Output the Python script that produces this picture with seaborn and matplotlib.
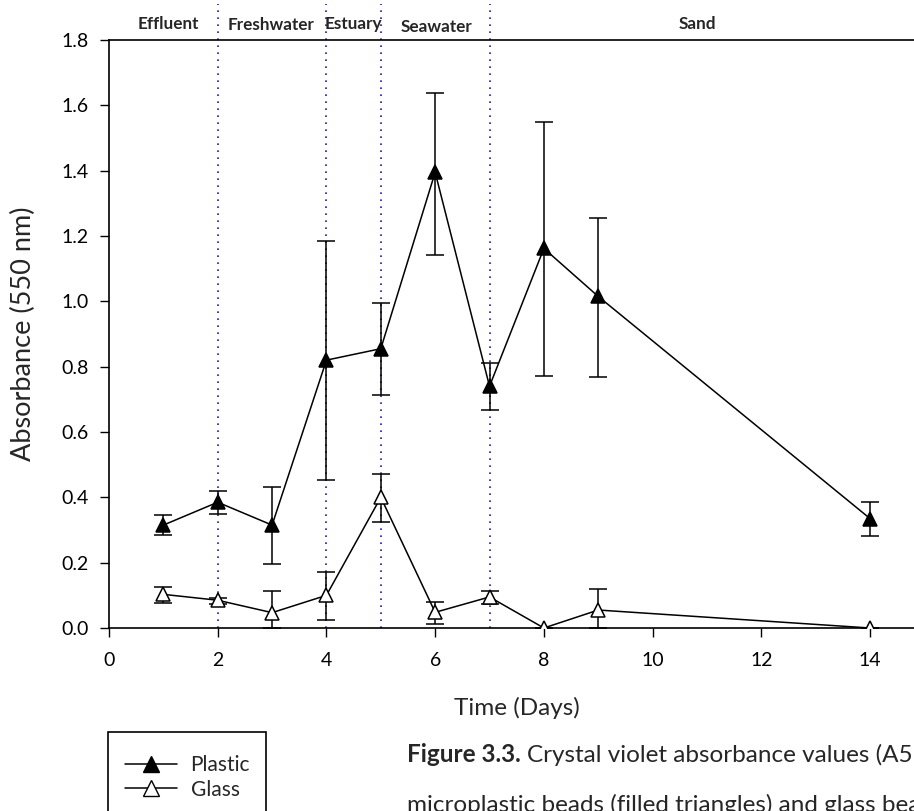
import numpy as np
import pandas as pd
import matplotlib
matplotlib.use("Agg")
import matplotlib.pyplot as plt
from matplotlib.patches import Rectangle
from matplotlib.lines import Line2D
import seaborn as sns

# Sampling days
days = [1, 2, 3, 4, 5, 6, 7, 8, 9, 14]

# Plastic beads: mean absorbance and error-bar limits
plastic_mean = [0.315, 0.385, 0.315, 0.82, 0.855, 1.395, 0.74, 1.162, 1.015, 0.335]
plastic_low = [0.285, 0.350, 0.196, 0.453, 0.713, 1.142, 0.667, 0.771, 0.768, 0.282]
plastic_high = [0.346, 0.419, 0.432, 1.185, 0.995, 1.637, 0.811, 1.549, 1.256, 0.385]

# Glass beads: mean absorbance and error-bar limits
glass_mean = [0.103, 0.085, 0.047, 0.100, 0.400, 0.048, 0.095, 0.0, 0.055, 0.0]
glass_low = [0.078, 0.072, 0.0, 0.024, 0.324, 0.012, 0.075, 0.0, 0.0, 0.0]
glass_high = [0.124, 0.092, 0.113, 0.171, 0.472, 0.079, 0.113, 0.0, 0.120, 0.0]

# Environment phases shown above the plot
phase_names = ["Effluent", "Freshwater", "Estuary", "Seawater", "Sand"]
phase_label_x = [1.085, 2.98, 4.49, 6.03, 10.82]
phase_label_y = [1.849, 1.847, 1.849, 1.840, 1.849]
phase_bounds = [2, 4, 5, 7]

x_ticks = [0, 2, 4, 6, 8, 10, 12, 14]
y_ticks = [0.0, 0.2, 0.4, 0.6, 0.8, 1.0, 1.2, 1.4, 1.6, 1.8]

sns.set_style("ticks")
plt.rcParams["font.family"] = ["Lato", "DejaVu Sans"]

W, H = 914, 811
AX_L, AX_T, AX_B = 109, 40, 628
fig = plt.figure(figsize=(W / 100, H / 100), dpi=100)
ax = fig.add_axes([AX_L / W, 1 - AX_B / H, 1 - AX_L / W, (AX_B - AX_T) / H])
ax_w = W - AX_L
ax_h = AX_B - AX_T

df = pd.DataFrame({
    "day": days * 2,
    "absorbance": plastic_mean + glass_mean,
    "bead": ["Plastic"] * len(days) + ["Glass"] * len(days),
})

for bead, mean, low, high, face in [
    ("Plastic", plastic_mean, plastic_low, plastic_high, "black"),
    ("Glass", glass_mean, glass_low, glass_high, "white"),
]:
    mean_a = np.array(mean)
    yerr = [mean_a - np.array(low), np.array(high) - mean_a]
    ax.errorbar(days, mean, yerr=yerr, fmt="none", ecolor="black",
                elinewidth=1.1, capsize=6.5, capthick=1.1, zorder=3)
    sns.lineplot(data=df[df["bead"] == bead], x="day", y="absorbance",
                 ax=ax, color="black", linewidth=1.1, marker="^",
                 markersize=10.5, markerfacecolor=face,
                 markeredgecolor="black", markeredgewidth=1.1,
                 legend=False, zorder=4)

# Phase boundaries
for xb in phase_bounds:
    ax.plot([xb, xb], [0, 1.91], color="#1c1cb0", linestyle=(0, (1, 3.2)),
            linewidth=1.2, clip_on=False, zorder=1)

for name, px, py in zip(phase_names, phase_label_x, phase_label_y):
    ax.text(px, py, name, ha="center", va="center", fontsize=12.3,
            fontweight="bold", clip_on=False)

ax.set_xlim(0, ax_w / 54.36)
ax.set_ylim(0, 1.8)
ax.set_xticks(x_ticks)
ax.set_yticks(y_ticks)
ax.set_yticklabels([f"{v:.1f}" for v in y_ticks])
ax.tick_params(axis="both", direction="out", length=6.5, width=1,
               labelsize=14, colors="black")
ax.tick_params(axis="y", pad=8)
ax.tick_params(axis="x", pad=11)
for side in ["left", "bottom", "top"]:
    ax.spines[side].set_visible(True)
    ax.spines[side].set_linewidth(1.2)
    ax.spines[side].set_color("black")
ax.spines["right"].set_visible(False)

ax.set_xlabel("Time (Days)", fontsize=17.5)
ax.xaxis.set_label_coords((517 - AX_L) / ax_w, (AX_B - 697) / ax_h)
ax.set_ylabel("Absorbance (550 nm)", fontsize=19.5)
ax.yaxis.set_label_coords((36 - AX_L) / ax_w, 0.5)

# Legend with a framing box
fig.patches.append(Rectangle((108 / W, -0.05), 158 / W, 0.05 + (H - 732) / H,
                             transform=fig.transFigure, fill=False,
                             edgecolor="black", linewidth=1.2))
handles = [
    Line2D([], [], color="black", linewidth=1.1, marker="^", markersize=11,
           markerfacecolor="black", markeredgecolor="black"),
    Line2D([], [], color="black", linewidth=1.1, marker="^", markersize=11,
           markerfacecolor="white", markeredgecolor="black"),
]
fig.legend(handles, ["Plastic", "Glass"], loc="upper left",
           bbox_to_anchor=(125 / W, 1 - 755 / H), frameon=False,
           fontsize=15, handlelength=2.5, handletextpad=0.65,
           labelspacing=0.22, borderpad=0, borderaxespad=0)

# Caption
t1 = fig.text(407 / W, 1 - 762 / H, "Figure 3.3.", fontsize=17.5,
              fontweight="bold", va="baseline")
fig.canvas.draw()
bb = t1.get_window_extent()
fig.text((bb.x1 + 6) / W, 1 - 762 / H,
         "Crystal violet absorbance values (A550)", fontsize=17.5,
         va="baseline")
fig.text(407 / W, 1 - 812 / H,
         "microplastic beads (filled triangles) and glass beads",
         fontsize=17.5, va="baseline")

fig.savefig("out.png", dpi=100)
